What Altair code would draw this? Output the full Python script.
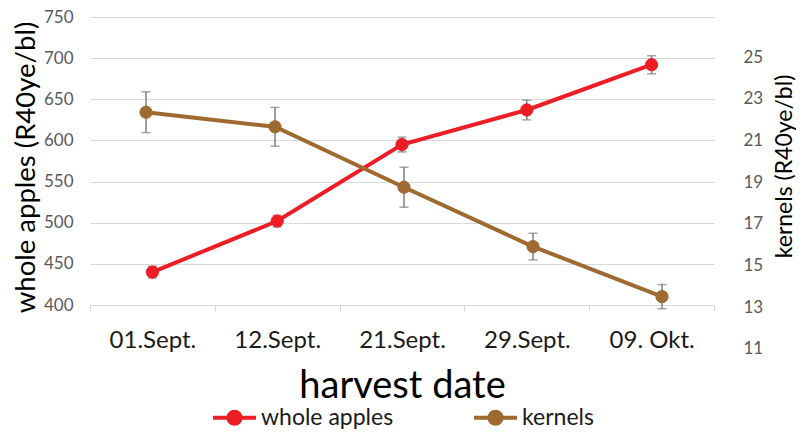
import altair as alt
import pandas as pd

# ---- data ----
dates = ["01.Sept.", "12.Sept.", "21.Sept.", "29.Sept.", "09. Okt."]
apples = [440, 502, 595, 637, 692]
apples_err = [7, 7, 9, 12, 11]
kernels = [22.35, 21.65, 18.75, 15.9, 13.5]
kernels_err = [0.98, 0.93, 0.96, 0.64, 0.58]
series_names = ["whole apples", "kernels"]
series_colors = ["#EE1D25", "#9E6A2F"]
left_ticks = [400, 450, 500, 550, 600, 650, 700, 750]
right_ticks = [11, 13, 15, 17, 19, 21, 23, 25]

FONT = "Lato"
ERR_COLOR = "#7F7F7F"

df_a = pd.DataFrame({
    "date": dates,
    "value": apples,
    "lo": [v - e for v, e in zip(apples, apples_err)],
    "hi": [v + e for v, e in zip(apples, apples_err)],
    "series": series_names[0],
})
df_k = pd.DataFrame({
    "date": dates,
    "value": kernels,
    "lo": [v - e for v, e in zip(kernels, kernels_err)],
    "hi": [v + e for v, e in zip(kernels, kernels_err)],
    "series": series_names[1],
})

legend_path = ("M-1,0H1M-0.28,0a0.28,0.28 0 1,0 0.56,0"
               "a0.28,0.28 0 1,0 -0.56,0")
legend = alt.Legend(
    title=None, orient="none", legendX=121, legendY=377,
    direction="horizontal", symbolType=legend_path, symbolSize=1849,
    symbolStrokeWidth=4, labelFontSize=23, labelFont=FONT,
    labelColor="#1A1A1A", columnPadding=72, labelOffset=3,
)
fill_scale = alt.Scale(domain=series_names, range=series_colors)

# ---------- whole apples (primary axis) ----------
xa = alt.X(
    "date:N", sort=dates,
    scale=alt.Scale(type="band", paddingInner=0, paddingOuter=0),
    axis=alt.Axis(
        title="harvest date", labelAngle=0, tickBand="extent",
        domainColor="#D9D9D9", tickColor="#D9D9D9", tickSize=6,
        labelFontSize=24, labelColor="#1A1A1A", labelPadding=17,
        titleFontSize=38, titleFontWeight="normal", titleColor="#000000",
        titlePadding=15,
    ),
)
ya_scale = alt.Scale(domain=[400, 750], nice=False, zero=False)
ya = alt.Y(
    "value:Q", scale=ya_scale,
    axis=alt.Axis(
        orient="left", values=left_ticks, title="whole apples (R40ye/bl)",
        grid=True, gridColor="#D9D9D9", domain=False, ticks=False, tickSize=0,
        labelFontSize=17, labelColor="#595959", labelPadding=17,
        titleFontSize=27.5, titleFontWeight="normal", titleColor="#000000",
        titlePadding=3, titleY=150,
    ),
)
base_a = alt.Chart(df_a)
line_a = base_a.mark_line(color=series_colors[0], strokeWidth=4).encode(x=xa, y=ya)
rule_a = base_a.mark_rule(color=ERR_COLOR, strokeWidth=1.5).encode(
    x=xa, y=alt.Y("lo:Q", scale=ya_scale), y2="hi:Q")
cap_lo_a = base_a.mark_tick(orient="horizontal", size=9, thickness=1.5,
                            color=ERR_COLOR).encode(x=xa, y=alt.Y("lo:Q", scale=ya_scale))
cap_hi_a = base_a.mark_tick(orient="horizontal", size=9, thickness=1.5,
                            color=ERR_COLOR).encode(x=xa, y=alt.Y("hi:Q", scale=ya_scale))
pts_a = base_a.mark_point(filled=True, size=150, opacity=1, strokeWidth=1).encode(
    x=xa, y=ya,
    fill=alt.Fill("series:N", scale=fill_scale, legend=legend),
    stroke=alt.Stroke("series:N", scale=fill_scale, legend=legend),
)
layer_a = alt.layer(rule_a, cap_lo_a, cap_hi_a, line_a, pts_a)

# ---------- kernels (secondary axis) ----------
xk = alt.X(
    "date:N", sort=dates,
    scale=alt.Scale(type="band", paddingInner=0, paddingOuter=0,
                    range=[-8.5, 636.5]),
    axis=None,
)
yk_scale = alt.Scale(domain=[11, 25], range=[331.7, 40], nice=False, zero=False)
yk = alt.Y(
    "value:Q", scale=yk_scale,
    axis=alt.Axis(
        orient="right", values=right_ticks, title="kernels (R40ye/bl)",
        grid=False, domain=False, ticks=False, tickSize=0,
        labelFontSize=17, labelColor="#595959", labelPadding=29,
        titleFontSize=23, titleFontWeight="normal", titleColor="#000000",
        titleAngle=270, titleBaseline="top", titlePadding=11, titleY=149,
    ),
)
base_k = alt.Chart(df_k)
line_k = base_k.mark_line(color=series_colors[1], strokeWidth=4).encode(x=xk, y=yk)
rule_k = base_k.mark_rule(color=ERR_COLOR, strokeWidth=1.5).encode(
    x=xk, y=alt.Y("lo:Q", scale=yk_scale), y2="hi:Q")
cap_lo_k = base_k.mark_tick(orient="horizontal", size=9, thickness=1.5,
                            color=ERR_COLOR).encode(x=xk, y=alt.Y("lo:Q", scale=yk_scale))
cap_hi_k = base_k.mark_tick(orient="horizontal", size=9, thickness=1.5,
                            color=ERR_COLOR).encode(x=xk, y=alt.Y("hi:Q", scale=yk_scale))
pts_k = base_k.mark_point(filled=True, size=150, opacity=1, strokeWidth=1).encode(
    x=xk, y=yk,
    fill=alt.Fill("series:N", scale=fill_scale, legend=legend),
    stroke=alt.Stroke("series:N", scale=fill_scale, legend=legend),
)
layer_k = alt.layer(rule_k, cap_lo_k, cap_hi_k, line_k, pts_k)

chart = (
    alt.layer(layer_a, layer_k)
    .resolve_scale(x="independent", y="independent")
    .properties(
        width=624, height=288,
        autosize=alt.AutoSizeParams(type="none"),
        padding={"left": 82, "top": 9, "right": 82, "bottom": 126},
        background="white",
    )
    .configure(font=FONT)
    .configure_view(strokeWidth=0)
)

chart.save("out.html", embed_options={"renderer": "svg", "actions": False})
